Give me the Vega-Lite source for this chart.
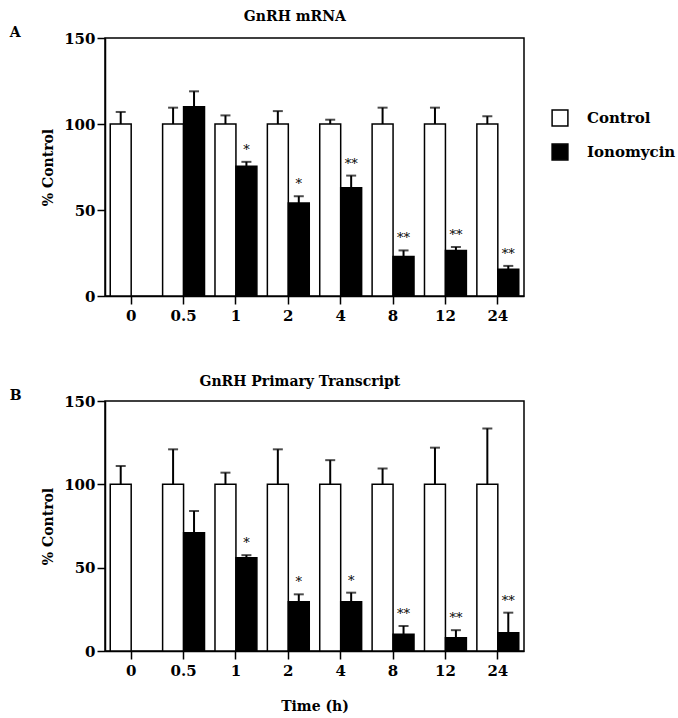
{
  "$schema": "https://vega.github.io/schema/vega-lite/v6.json",
  "background": "white",
  "padding": {"left": 8, "top": 10, "right": 5, "bottom": 2},
  "datasets": {
    "A": [
      {"time": "0", "group": "Control", "value": 100, "err": 107, "sig": ""},
      {"time": "0.5", "group": "Control", "value": 100, "err": 109.5, "sig": ""},
      {"time": "0.5", "group": "Ionomycin", "value": 110, "err": 119, "sig": ""},
      {"time": "1", "group": "Control", "value": 100, "err": 105, "sig": ""},
      {"time": "1", "group": "Ionomycin", "value": 75.5, "err": 78, "sig": "*"},
      {"time": "2", "group": "Control", "value": 100, "err": 107.5, "sig": ""},
      {"time": "2", "group": "Ionomycin", "value": 54, "err": 58, "sig": "*"},
      {"time": "4", "group": "Control", "value": 100, "err": 102.5, "sig": ""},
      {"time": "4", "group": "Ionomycin", "value": 63, "err": 70, "sig": "**"},
      {"time": "8", "group": "Control", "value": 100, "err": 109.5, "sig": ""},
      {"time": "8", "group": "Ionomycin", "value": 23, "err": 26.5, "sig": "**"},
      {"time": "12", "group": "Control", "value": 100, "err": 109.5, "sig": ""},
      {"time": "12", "group": "Ionomycin", "value": 26.5, "err": 28.5, "sig": "**"},
      {"time": "24", "group": "Control", "value": 100, "err": 104.5, "sig": ""},
      {"time": "24", "group": "Ionomycin", "value": 15.5, "err": 17.5, "sig": "**"}
    ],
    "B": [
      {"time": "0", "group": "Control", "value": 100, "err": 111, "sig": ""},
      {"time": "0.5", "group": "Control", "value": 100, "err": 121, "sig": ""},
      {"time": "0.5", "group": "Ionomycin", "value": 71, "err": 84, "sig": ""},
      {"time": "1", "group": "Control", "value": 100, "err": 107, "sig": ""},
      {"time": "1", "group": "Ionomycin", "value": 56, "err": 57.5, "sig": "*"},
      {"time": "2", "group": "Control", "value": 100, "err": 121, "sig": ""},
      {"time": "2", "group": "Ionomycin", "value": 29.5, "err": 34, "sig": "*"},
      {"time": "4", "group": "Control", "value": 100, "err": 114.5, "sig": ""},
      {"time": "4", "group": "Ionomycin", "value": 29.5, "err": 35, "sig": "*"},
      {"time": "8", "group": "Control", "value": 100, "err": 109.5, "sig": ""},
      {"time": "8", "group": "Ionomycin", "value": 10, "err": 15, "sig": "**"},
      {"time": "12", "group": "Control", "value": 100, "err": 122, "sig": ""},
      {"time": "12", "group": "Ionomycin", "value": 8, "err": 12.5, "sig": "**"},
      {"time": "24", "group": "Control", "value": 100, "err": 133.5, "sig": ""},
      {"time": "24", "group": "Ionomycin", "value": 11, "err": 23, "sig": "**"}
    ]
  },
  "config": {
    "font": "DejaVu Serif",
    "view": {"stroke": "black", "strokeWidth": 1.5},
    "axis": {
      "labelFont": "DejaVu Serif", "labelFontWeight": "bold", "labelFontSize": 15, "labelColor": "black",
      "titleFont": "DejaVu Serif", "titleFontWeight": "bold", "titleFontSize": 14, "titleColor": "black",
      "domainColor": "black", "domainWidth": 1.5, "tickColor": "black", "tickWidth": 1.5, "grid": false
    },
    "title": {"font": "DejaVu Serif", "fontWeight": "bold", "fontSize": 14, "color": "black"}
  },
  "spacing": 51,
  "vconcat": [
    {
      "title": {"text": "GnRH mRNA", "anchor": "middle", "offset": 1, "dx": 28},
      "vconcat": [
        {
          "title": {"text": "A", "anchor": "start", "frame": "bounds", "dx": -32, "offset": -9},
          "width": 419, "height": 258,
          "data": {"name": "A"},
          "encoding": {
            "x": {"field": "time", "type": "nominal", "sort": ["0", "0.5", "1", "2", "4", "8", "12", "24"],
                  "scale": {"paddingInner": 0.2, "paddingOuter": 0.1},
                  "axis": {"title": null, "labelAngle": 0, "tickSize": 8, "labelPadding": 4, "domain": true}},
            "xOffset": {"field": "group", "type": "nominal", "sort": ["Control", "Ionomycin"], "scale": {"paddingInner": 0, "paddingOuter": 0}}
          },
          "layer": [
            {"mark": {"type": "rule", "strokeWidth": 2, "color": "black"},
             "encoding": {"y": {"field": "value", "type": "quantitative"}, "y2": {"field": "err"}}},
            {"mark": {"type": "tick", "size": 10, "thickness": 2, "color": "black"},
             "encoding": {"y": {"field": "err", "type": "quantitative"}}},
            {"mark": {"type": "bar", "stroke": "black", "strokeWidth": 1.5},
             "encoding": {
               "y": {"field": "value", "type": "quantitative", "scale": {"domain": [0, 150], "nice": false},
                     "axis": {"title": "% Control", "values": [0, 50, 100, 150], "tickSize": 8, "labelPadding": 2, "titlePadding": 8}},
               "fill": {"field": "group", "type": "nominal", "scale": {"domain": ["Control", "Ionomycin"], "range": ["white", "black"]},
                        "legend": {"title": null, "orient": "none", "legendX": 446, "legendY": 71, "symbolType": "square", "symbolSize": 250,
                                   "symbolStrokeColor": "black", "symbolStrokeWidth": 1.5, "labelFont": "DejaVu Serif", "labelFontWeight": "bold",
                                   "labelFontSize": 15, "labelColor": "black", "rowPadding": 12, "labelOffset": 18}}
             }},
            {"mark": {"type": "text", "baseline": "alphabetic", "dy": -8, "fontSize": 13, "color": "black", "font": "DejaVu Serif"},
             "encoding": {"y": {"field": "err", "type": "quantitative"}, "text": {"field": "sig"}}}
          ]
        }
      ]
    },
    {
      "title": {"text": "GnRH Primary Transcript", "anchor": "middle", "offset": -1, "dx": 33},
      "vconcat": [
        {
          "title": {"text": "B", "anchor": "start", "frame": "bounds", "dx": -32, "offset": -9},
          "width": 419, "height": 250,
          "data": {"name": "B"},
          "encoding": {
            "x": {"field": "time", "type": "nominal", "sort": ["0", "0.5", "1", "2", "4", "8", "12", "24"],
                  "scale": {"paddingInner": 0.2, "paddingOuter": 0.1},
                  "axis": {"title": "Time (h)", "labelAngle": 0, "tickSize": 8, "labelPadding": 4, "titlePadding": 21}},
            "xOffset": {"field": "group", "type": "nominal", "sort": ["Control", "Ionomycin"], "scale": {"paddingInner": 0, "paddingOuter": 0}}
          },
          "layer": [
            {"mark": {"type": "rule", "strokeWidth": 2, "color": "black"},
             "encoding": {"y": {"field": "value", "type": "quantitative"}, "y2": {"field": "err"}}},
            {"mark": {"type": "tick", "size": 10, "thickness": 2, "color": "black"},
             "encoding": {"y": {"field": "err", "type": "quantitative"}}},
            {"mark": {"type": "bar", "stroke": "black", "strokeWidth": 1.5},
             "encoding": {
               "y": {"field": "value", "type": "quantitative", "scale": {"domain": [0, 150], "nice": false},
                     "axis": {"title": "% Control", "values": [0, 50, 100, 150], "tickSize": 8, "labelPadding": 2, "titlePadding": 8}},
               "fill": {"field": "group", "type": "nominal", "scale": {"domain": ["Control", "Ionomycin"], "range": ["white", "black"]}}
             }},
            {"mark": {"type": "text", "baseline": "alphabetic", "dy": -8, "fontSize": 13, "color": "black", "font": "DejaVu Serif"},
             "encoding": {"y": {"field": "err", "type": "quantitative"}, "text": {"field": "sig"}}}
          ]
        }
      ]
    }
  ]
}
